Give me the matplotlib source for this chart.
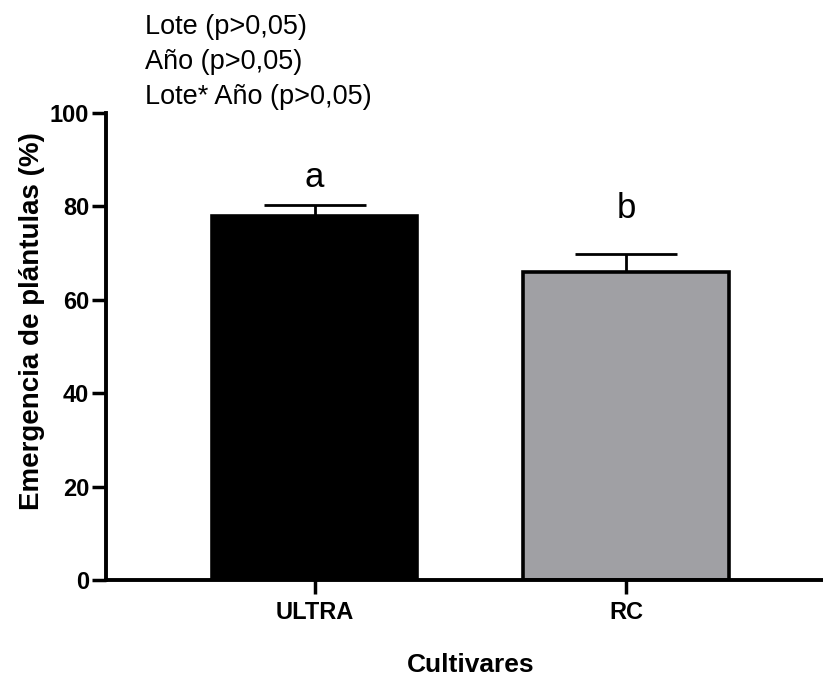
import matplotlib
matplotlib.use("Agg")
import matplotlib.pyplot as plt

categories = ["ULTRA", "RC"]
means = [78.0, 66.0]
errors = [2.3, 3.8]
letters = ["a", "b"]
letter_y = [84.2, 77.5]
colors = ["#000000", "#A0A0A4"]
notes = ["Lote (p>0,05)", "Año (p>0,05)", "Lote* Año (p>0,05)"]
yticks = [0, 20, 40, 60, 80, 100]

plt.rcParams['font.family'] = ['Liberation Sans', 'DejaVu Sans']

W, H = 823, 678
L, B, T = 106, 580, 113
fig = plt.figure(figsize=(W/100, H/100), dpi=100)
ax = fig.add_axes([L/W, 1-B/H, 1-L/W, (B-T)/H])

x = list(range(len(categories)))
ax.bar(x, means, width=0.66, color=colors, edgecolor="black", linewidth=2.6, zorder=2)
ax.errorbar(x, means, yerr=[[0]*len(errors), errors], fmt="none", ecolor="black",
            elinewidth=2, capsize=37, capthick=2, zorder=1)
for xi, ly, l in zip(x, letter_y, letters):
    ax.text(xi, ly, l, ha="center", va="baseline", fontsize=25)

ax.set_xlim(-0.67, 1.633)
ax.set_ylim(0, 100)
ax.set_yticks(yticks)
ax.set_xticks(x)
ax.set_xticklabels(categories, fontsize=17, fontweight="bold")
ax.tick_params(axis="y", labelsize=17, width=2.5, length=10, pad=2)
ax.tick_params(axis="x", width=2.5, length=10, pad=5)
for lab in ax.get_yticklabels():
    lab.set_fontweight("bold")
for s in ["top", "right"]:
    ax.spines[s].set_visible(False)
for s in ["left", "bottom"]:
    ax.spines[s].set_linewidth(2.8)
ax.set_ylabel("Emergencia de plántulas (%)", fontsize=20, fontweight="bold", va="center")
ax.yaxis.set_label_coords((32-L)/(W-L), 0.555)
ax.set_xlabel("Cultivares", fontsize=19, fontweight="bold", va="top")
ax.xaxis.set_label_coords(0.508, (B-653)/(B-T))

for i, n in enumerate(notes):
    fig.text(145/W, 1-(27+35*i)/H, n, ha="left", va="center", fontsize=19.5)

fig.savefig("out.png", dpi=100)
